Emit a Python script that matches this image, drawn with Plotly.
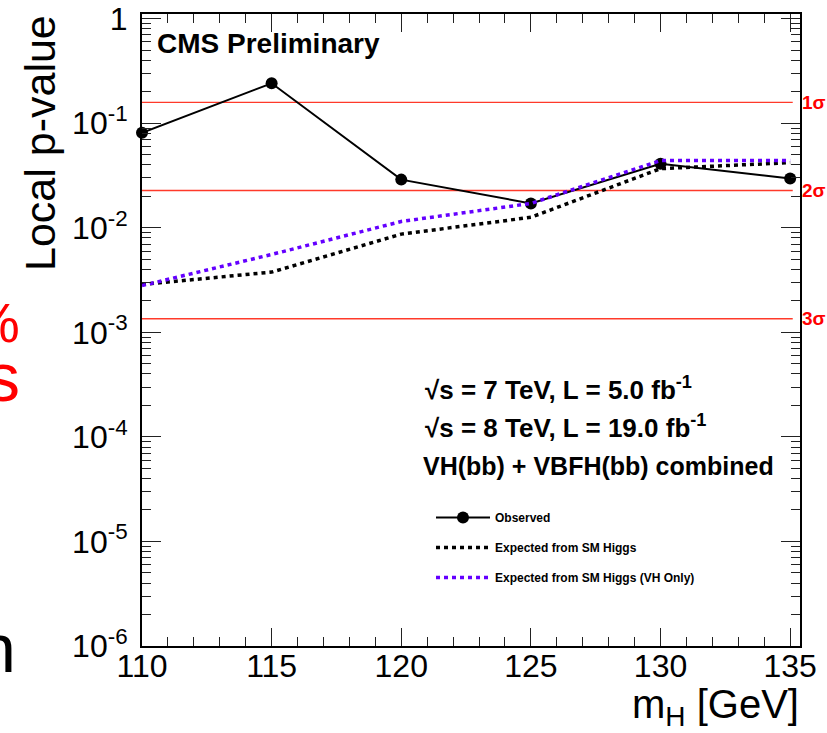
import math
import plotly.graph_objects as go

# ---------------- data ----------------
mass = [110, 115, 120, 125, 130, 135]
observed = [0.081, 0.241, 0.0289, 0.0171, 0.041, 0.0296]
expected_sm = [0.00287, 0.00377, 0.0087, 0.0126, 0.0368, 0.042]
expected_vh = [0.0028, 0.00556, 0.0115, 0.0171, 0.044, 0.044]

sigma_labels = ["1σ", "2σ", "3σ"]
sigma_pvalues = [0.1587, 0.02275, 0.00135]

x_tick_vals = [110, 115, 120, 125, 130, 135]
x_minor_vals = list(range(110, 136))
y_tick_vals = [1e-6, 1e-5, 1e-4, 1e-3, 1e-2, 1e-1, 1]
y_tick_text = ["10<sup>-6</sup>", "10<sup>-5</sup>", "10<sup>-4</sup>",
               "10<sup>-3</sup>", "10<sup>-2</sup>", "10<sup>-1</sup>", "1"]
y_minor_vals = [m * 10.0 ** e for e in range(-6, 0) for m in range(2, 10)]

# ---------------- layout geometry ----------------
W, H = 827, 733
ML, MR, MT, MB = 142, 27, 14, 87
PW, PH = W - ML - MR, H - MT - MB


def px2x(px):
    return (px - ML) / PW


def py2y(py):
    return (H - MB - py) / PH


FONT = "Liberation Sans, Arial, Helvetica, sans-serif"

fig = go.Figure()

fig.add_trace(go.Scatter(
    x=mass, y=observed, mode="lines+markers", name="Observed",
    line=dict(color="black", width=2), marker=dict(color="black", size=12),
    cliponaxis=False, legendgroup="a"))
fig.add_trace(go.Scatter(
    x=mass, y=expected_sm, mode="lines", name="Expected from SM Higgs",
    line=dict(color="black", width=3.5, dash="4px,4px"), legendgroup="b"))
fig.add_trace(go.Scatter(
    x=mass, y=expected_vh, mode="lines", name="Expected from SM Higgs (VH Only)",
    line=dict(color="#6400ff", width=3.5, dash="4px,4px"), legendgroup="c"))

shapes = []
annotations = []
for lab, p in zip(sigma_labels, sigma_pvalues):
    shapes.append(dict(type="line", xref="x", yref="y", x0=110, x1=135.1,
                       y0=p, y1=p, line=dict(color="#ff3a2a", width=1.3),
                       layer="below"))
    annotations.append(dict(xref="paper", yref="y", x=px2x(800), y=math.log10(p),
                            xanchor="left", yanchor="middle", text="<b>" + lab + "</b>",
                            showarrow=False, font=dict(family=FONT, size=19, color="#ff0000")))

texts = [
    ("<b>CMS Preliminary</b>", 155, 43, 28),
    ("<b>√s = 7 TeV, L = 5.0 fb<sup>-1</sup></b>", 423, 388, 26),
    ("<b>√s = 8 TeV, L = 19.0 fb<sup>-1</sup></b>", 423, 427, 26),
    ("<b>VH(bb) + VBFH(bb) combined</b>", 421, 466, 25),
]
for t, x, y, s in texts:
    annotations.append(dict(xref="paper", yref="paper", x=px2x(x), y=py2y(y),
                            xanchor="left", yanchor="middle", text=t, showarrow=False,
                            font=dict(family=FONT, size=s, color="black")))

# axis titles
annotations.append(dict(xref="paper", yref="paper", x=px2x(40), y=py2y(13),
                        xanchor="center", yanchor="top", text="Local p-value",
                        textangle=-90, showarrow=False,
                        font=dict(family=FONT, size=43, color="black")))
annotations.append(dict(xref="paper", yref="paper", x=px2x(801), y=py2y(707),
                        xanchor="right", yanchor="middle", text="m<sub>H</sub> [GeV]",
                        showarrow=False, font=dict(family=FONT, size=40, color="black")))

# fragments of neighbouring slide text cut off at the left edge
annotations.append(dict(xref="paper", yref="paper", x=px2x(22), y=py2y(322),
                        xanchor="right", yanchor="middle", text="%", showarrow=False,
                        font=dict(family=FONT, size=56, color="#ff0000")))
annotations.append(dict(xref="paper", yref="paper", x=px2x(22), y=py2y(377),
                        xanchor="right", yanchor="middle", text="s", showarrow=False,
                        font=dict(family=FONT, size=68, color="#ff0000")))
annotations.append(dict(xref="paper", yref="paper", x=px2x(18), y=py2y(648),
                        xanchor="right", yanchor="middle", text="n", showarrow=False,
                        font=dict(family=FONT, size=68, color="black")))

fig.update_layout(
    width=W, height=H,
    margin=dict(l=ML, r=MR, t=MT, b=MB, pad=0, autoexpand=False),
    paper_bgcolor="white", plot_bgcolor="white",
    showlegend=True,
    legend=dict(x=px2x(431), y=py2y(503), xanchor="left", yanchor="top",
                bgcolor="rgba(0,0,0,0)", traceorder="grouped", tracegroupgap=11,
                itemwidth=54,
                font=dict(family=FONT, size=12, color="black", weight="bold")),
    shapes=shapes, annotations=annotations,
    font=dict(family=FONT, color="black"),
)

fig.update_xaxes(
    range=[110, 135.38], showgrid=False, zeroline=False, automargin=False,
    showline=True, linecolor="black", linewidth=2, mirror="ticks",
    ticks="inside", ticklen=18, tickwidth=1, tickcolor="#222",
    tickmode="array", tickvals=x_tick_vals, ticklabelstandoff=-9,
    tickfont=dict(family=FONT, size=32, color="black"),
    minor=dict(tickmode="array", tickvals=x_minor_vals, ticks="inside",
               ticklen=9, tickwidth=1, tickcolor="#222", showgrid=False),
)
fig.update_yaxes(
    type="log", range=[-6, 0.045], showgrid=False, zeroline=False, automargin=False,
    showline=True, linecolor="black", linewidth=2, mirror="ticks",
    ticks="inside", ticklen=19, tickwidth=1, tickcolor="#222",
    tickmode="array", tickvals=y_tick_vals, ticktext=y_tick_text, ticklabelstandoff=6,
    tickfont=dict(family=FONT, size=32, color="black"),
    minor=dict(tickmode="array", tickvals=y_minor_vals, ticks="inside",
               ticklen=9, tickwidth=1, tickcolor="#222", showgrid=False),
)

fig.write_html(
    "out.html",
    config={"displayModeBar": False},
    post_script="document.body.style.margin='0';document.body.style.overflow='hidden';",
)
